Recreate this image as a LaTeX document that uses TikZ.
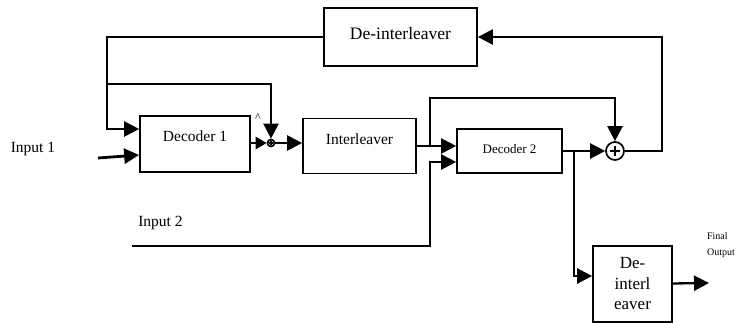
\documentclass[tikz,border=0pt]{standalone}
\usepackage{fontspec}
\setmainfont{Liberation Serif}
\usetikzlibrary{arrows.meta, positioning, calc}
\tikzset{
  blk/.style={rectangle, draw, line width=1.7pt, align=center, inner sep=0pt},
  sumnode/.style={circle, draw, line width=1.7pt, inner sep=0pt, fill=white,
    path picture={
      \draw[line width=1.6pt]
        ($(path picture bounding box.west)!0.2!(path picture bounding box.east)$) --
        ($(path picture bounding box.west)!0.8!(path picture bounding box.east)$)
        ($(path picture bounding box.north)!0.2!(path picture bounding box.south)$) --
        ($(path picture bounding box.north)!0.8!(path picture bounding box.south)$);}},
  arrow/.style={-{Triangle[length=15pt, width=15pt]}, line width=2.3pt},
  shortarrow/.style={-{Triangle[length=11pt, width=12pt]}, line width=2.6pt},
  lbl/.style={inner sep=0pt, font=\fontsize{15.5}{18}\selectfont}
}

\begin{document}
\begin{tikzpicture}[x=1pt, y=-1pt]
  \useasboundingbox (0,0) rectangle (747,322);
  % blocks
  \node[blk, minimum width=153pt, minimum height=58pt, text depth=8pt,
    font=\fontsize{17.5}{20}\selectfont] (deint) at (400.5,37) {De-interleaver};
  \node[blk, minimum width=110pt, minimum height=56pt, text depth=16pt,
    font=\fontsize{15.5}{18}\selectfont] (dec1) at (195,144) {Decoder 1};
  \node[blk, minimum width=113pt, minimum height=55pt, text depth=14pt,
    font=\fontsize{15.5}{18}\selectfont] (intl) at (359.5,146) {Interleaver};
  \node[blk, minimum width=105pt, minimum height=44pt, text depth=4pt,
    font=\fontsize{13}{16}\selectfont] (dec2) at (509.5,151) {Decoder 2};
  \node[blk, minimum width=79pt, minimum height=76pt,
    font=\fontsize{17}{20.5}\selectfont] (deint2) at (632.5,284) {De-\\interl\\eaver};
  \node[sumnode, minimum size=7pt] (sum1) at (271,143) {};
  \node[sumnode, minimum size=18pt] (sum2) at (615,151) {};
  % labels
  \node[lbl] (in1lbl) at (33,149) {Input 1};
  \node[lbl] (in2lbl) at (160.5,223) {Input 2};
  \node[inner sep=0pt, align=left, font=\fontsize{10}{16}\selectfont] (finlbl) at (721,245) {Final\\Output};
  \node[inner sep=0pt, font=\fontsize{12}{14}\selectfont] (hat) at (258,118) {\textasciicircum};
  % branch points and free ends
  \coordinate (fbtop) at (108,84);
  \coordinate (split2) at (430,146);
  \coordinate (top2) at (615,98);
  \coordinate (split3) at (574,151);
  \coordinate (in1) at (98,158);
  \coordinate (in2) at (132,246);
  \coordinate (out) at (709,283);
  % connectors
  \draw[arrow] (deint.west) -| ($(dec1.west)+(-32,-15)$) -- ($(dec1.west)+(0,-15)$);
  \draw[arrow] (fbtop) -| (sum1);
  \draw[arrow, line width=2.8pt] (in1) -- ($(dec1.west)+(0,11)$);
  \draw[shortarrow] (dec1.east |- sum1) -- (sum1);
  \draw[arrow] (sum1) -- (intl.west |- sum1);
  \draw[arrow] (intl.east) -- (dec2.west |- intl.east);
  \draw[arrow] (split2) |- (top2) -- (sum2);
  \draw[arrow] (in2) -| ($(dec2.west)+(-26,11)$) -- ($(dec2.west)+(0,11)$);
  \draw[arrow] (dec2.east) -- (sum2);
  \draw[arrow] (split3) |- ($(deint2.west)+(0,-8)$);
  \draw[arrow] (sum2.east) -- ++(37,0) |- (deint.east);
  \draw[arrow] (deint2) -- (out);
\end{tikzpicture}
\end{document}
